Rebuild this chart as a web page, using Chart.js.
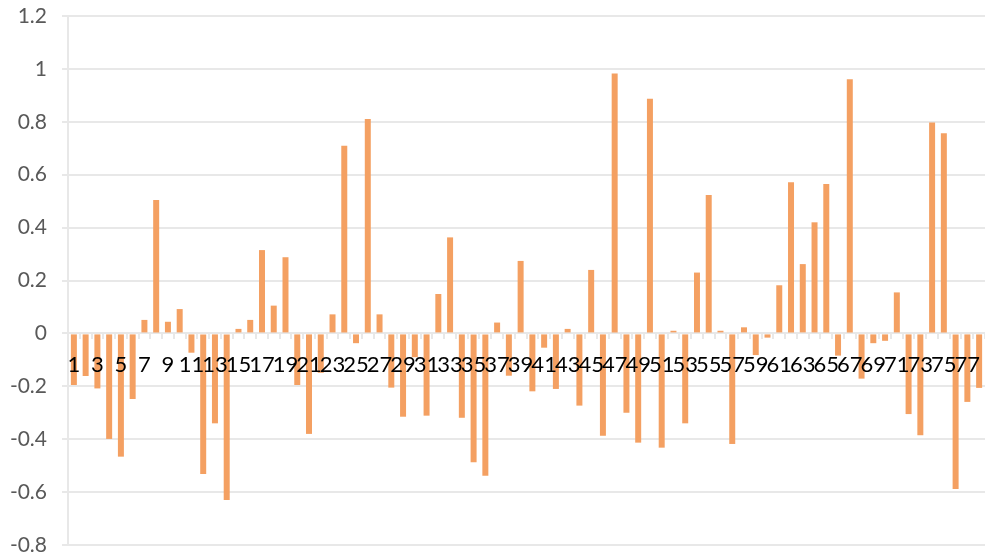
<!DOCTYPE html>
<html>
<head>
<meta charset="utf-8">
<script src="https://cdn.jsdelivr.net/npm/chart.js@4.4.1/dist/chart.umd.min.js"></script>
<style>
    html, body { margin: 0; padding: 0; background: #fff; }
    #bar-chart { display: block; }
</style>
</head>
<body>
<canvas id="bar-chart" width="985" height="557"></canvas>
<script>
"use strict";
// category labels 1..78, only odd ones are shown on the axis
const categories = ['1','2','3','4','5','6','7','8','9','10','11','12','13','14','15','16','17','18','19','20',
    '21','22','23','24','25','26','27','28','29','30','31','32','33','34','35','36','37','38','39','40',
    '41','42','43','44','45','46','47','48','49','50','51','52','53','54','55','56','57','58','59','60',
    '61','62','63','64','65','66','67','68','69','70','71','72','73','74','75','76','77','78'];

const values = [
    -0.195, -0.161, -0.208, -0.399, -0.466, -0.248, 0.051, 0.504, 0.044, 0.092,
    -0.073, -0.532, -0.340, -0.630, 0.017, 0.051, 0.315, 0.105, 0.288, -0.195,
    -0.380, -0.149, 0.072, 0.709, -0.037, 0.811, 0.072, -0.205, -0.315, -0.090,
    -0.311, 0.149, 0.363, -0.319, -0.487, -0.538, 0.041, -0.160, 0.274, -0.219,
    -0.054, -0.210, 0.017, -0.273, 0.240, -0.387, 0.983, -0.300, -0.413, 0.887,
    -0.432, 0.010, -0.340, 0.230, 0.523, 0.010, -0.418, 0.023, -0.082, -0.016,
    0.182, 0.571, 0.262, 0.420, 0.565, -0.084, 0.961, -0.171, -0.037, -0.028,
    0.155, -0.305, -0.385, 0.797, 0.757, -0.588, -0.259, -0.206];

const y_tick_labels = ['-0.8', '-0.6', '-0.4', '-0.2', '0', '0.2', '0.4', '0.6', '0.8', '1', '1.2'];

const grid_color = '#e8e8e8';
const bar_color = '#f4a062';

const chart_ctx = document.getElementById('bar-chart').getContext('2d');
const bar_chart = new Chart(chart_ctx, {
    type: 'bar',
    data: {
        labels: categories,
        datasets: [{
            label: 'value',
            data: values,
            backgroundColor: bar_color,
            borderWidth: 0,
            barPercentage: 1.0,
            categoryPercentage: 0.51,
        }]
    },
    options: {
        responsive: false,
        animation: false,
        devicePixelRatio: 1,
        layout: { padding: { top: 16, right: 0, bottom: 12, left: 0 } },
        plugins: {
            legend: { display: false },
            tooltip: { enabled: false },
        },
        scales: {
            x: {
                position: { y: 0 },
                // labels overflow the edges freely, like the original
                afterFit: function (scale) {
                    scale.paddingLeft = 0;
                    scale.paddingRight = 0;
                },
                grid: {
                    drawOnChartArea: false,
                    drawTicks: true,
                    tickLength: 6,
                    color: grid_color,
                    lineWidth: 2,
                    offset: true,
                },
                border: { display: false },
                ticks: {
                    z: 1,
                    autoSkip: false,
                    maxRotation: 0,
                    minRotation: 0,
                    padding: 12,
                    color: '#000000',
                    font: { family: 'Lato', size: 22 },
                    callback: function (val, idx) {
                        return idx % 2 === 0 ? categories[idx] : '';
                    },
                },
            },
            y: {
                min: -0.8,
                max: 1.2,
                afterFit: function (scale) {
                    scale.width = 68;
                    scale.paddingTop = 0;
                    scale.paddingBottom = 0;
                },
                grid: {
                    color: grid_color,
                    lineWidth: 2,
                    tickLength: 6,
                    drawTicks: true,
                },
                border: { display: true, color: grid_color, width: 2 },
                ticks: {
                    stepSize: 0.2,
                    padding: 15,
                    color: '#595959',
                    font: { family: 'Lato', size: 21 },
                    callback: function (val) {
                        const idx = Math.round((val + 0.8) / 0.2);
                        return y_tick_labels[idx];
                    },
                },
            },
        },
    },
});
</script>
</body>
</html>
